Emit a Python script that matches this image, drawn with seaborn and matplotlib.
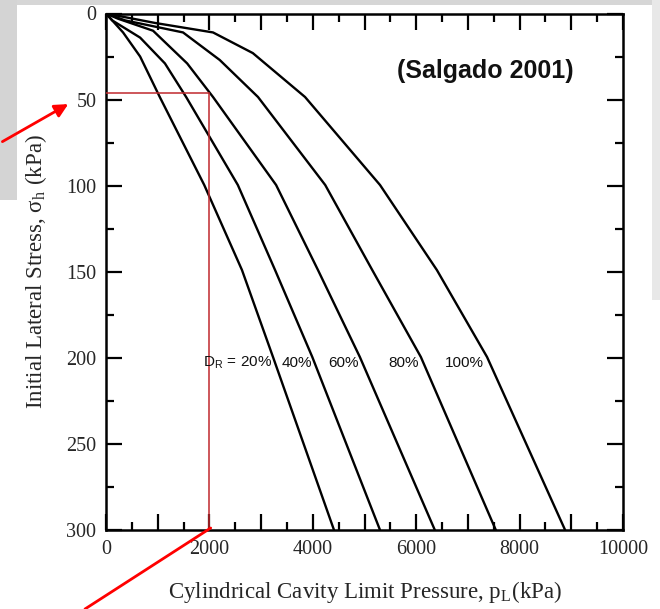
import matplotlib
matplotlib.use("Agg")
import matplotlib.pyplot as plt
import matplotlib.ticker as mticker
from matplotlib.patches import Rectangle, FancyArrowPatch
from matplotlib.lines import Line2D
import seaborn as sns
import pandas as pd

# ---- data (pL in kPa, sigma_h in kPa) ----
x20 = [0, 330, 660, 1040, 1900, 2630, 3230, 4410]
y20 = [0, 11, 25, 48.5, 99.6, 149, 199.5, 300]
x40 = [0, 120, 660, 1140, 1550, 2550, 3270, 3990, 5300]
y40 = [0, 4, 14, 29, 48.5, 99.6, 149, 199.5, 300]
x60 = [0, 230, 910, 1570, 2070, 3290, 4100, 4910, 6360]
y60 = [0, 3, 10, 29, 48.5, 99.6, 149, 199.5, 300]
x80 = [0, 370, 1490, 2200, 2940, 4240, 5150, 6090, 7540]
y80 = [0, 4, 11, 27, 48.5, 99.6, 149, 199.5, 300]
x100 = [0, 950, 2070, 2840, 3850, 5300, 6400, 7370, 8880]
y100 = [0, 5.5, 11, 23, 48.5, 99.6, 149, 199.5, 300]

dr_names = ["20%", "40%", "60%", "80%", "100%"]
dr_labels = ["D$_\\mathregular{R}$ = 20%", "40%", "60%", "80%", "100%"]
label_x = [1876, 3404, 4294, 5455, 6557]
label_y = 203

ref_x = 2000      # reading line, pL
ref_y = 46        # reading line, sigma_h

x_ticks = [0, 2000, 4000, 6000, 8000, 10000]
y_ticks = [0, 50, 100, 150, 200, 250, 300]

series = {"20%": (x20, y20), "40%": (x40, y40), "60%": (x60, y60),
          "80%": (x80, y80), "100%": (x100, y100)}
rows = []
for name, (xs, ys) in series.items():
    for a, b in zip(xs, ys):
        rows.append({"DR": name, "pL": a, "sh": b})
df = pd.DataFrame(rows)

sns.set_style("ticks")
plt.rcParams["font.family"] = ["Liberation Serif", "DejaVu Serif"]
plt.rcParams["mathtext.fontset"] = "stix"

W, H = 660, 609
fig = plt.figure(figsize=(W / 100, H / 100), dpi=100)
fig.patch.set_facecolor("white")

# faint scanned-page background remnants
fig.patches.append(Rectangle((0, (H - 5) / H), 1, 5 / H, transform=fig.transFigure,
                             facecolor="#d6d6d6", edgecolor="none", zorder=0))
fig.patches.append(Rectangle((0, (H - 200) / H), 17 / W, 200 / H, transform=fig.transFigure,
                             facecolor="#d4d4d4", edgecolor="none", zorder=0))
fig.patches.append(Rectangle((652 / W, (H - 300) / H), 8 / W, 300 / H, transform=fig.transFigure,
                             facecolor="#e8e8e8", edgecolor="none", zorder=0))

ax = fig.add_axes([106 / W, (H - 530) / H, 517 / W, (530 - 13.5) / H])
ax.set_facecolor("white")

sns.lineplot(data=df, x="pL", y="sh", hue="DR", hue_order=dr_names,
             palette=["black"] * 5, estimator=None, sort=False, units="DR",
             linewidth=1.7, legend=False, ax=ax)

# red reading lines
ax.plot([0, ref_x], [ref_y, ref_y], color="#c0282d", lw=1.1, zorder=3)
ax.plot([ref_x, ref_x], [ref_y, 300], color="#c0282d", lw=1.1, zorder=3)

ax.set_xlim(0, 10000)
ax.set_ylim(300, 0)

ax.xaxis.set_major_locator(mticker.MultipleLocator(1000))
ax.xaxis.set_minor_locator(mticker.MultipleLocator(500))
ax.xaxis.set_major_formatter(mticker.FuncFormatter(
    lambda v, p: f"{int(round(v))}" if int(round(v)) in x_ticks else ""))
ax.yaxis.set_major_locator(mticker.FixedLocator(y_ticks))
ax.yaxis.set_minor_locator(mticker.MultipleLocator(25))

ax.tick_params(which="both", direction="in", top=True, right=True,
               width=1.6, color="black")
ax.tick_params(which="major", length=11.5, labelsize=14.5, pad=7)
ax.tick_params(which="minor", length=6)
for s in ax.spines.values():
    s.set_linewidth(1.8)
    s.set_color("black")

ax.set_xlabel("Cylindrical Cavity Limit Pressure, p$_\\mathregular{L}$(kPa)",
              fontsize=16.5, va="center")
ax.xaxis.set_label_coords(0.5, -(592 - 530) / (530 - 13.5))
ax.set_ylabel("Initial Lateral Stress, σ$_\\mathregular{h}$ (kPa)",
              fontsize=16.5, va="center")
ax.yaxis.set_label_coords(-(106 - 36) / 517, 0.5)

for lx, lab in zip(label_x, dr_labels):
    ax.text(lx, label_y, lab, fontsize=11, ha="left", va="center",
            family=["Liberation Sans", "DejaVu Sans"], color="#111111")

ax.text(7331, 33.4, "(Salgado 2001)", fontsize=18, fontweight="bold",
        ha="center", va="center", family=["Liberation Sans", "DejaVu Sans"],
        color="#111111")

# red pointer arrows (figure pixels, origin bottom-left)
arr = FancyArrowPatch((0 / W, (H - 143) / H), (70.7 / W, (H - 102.7) / H),
                      transform=fig.transFigure, arrowstyle="-|>",
                      mutation_scale=20, color="#ff0000", lw=2.0, zorder=10)
fig.patches.append(arr)
fig.lines.append(Line2D([85 / W, 210.7 / W], [(H - 609) / H, (H - 528) / H],
                        transform=fig.transFigure, color="#ff0000", lw=2.0, zorder=10))

fig.savefig("out.png", dpi=100)
